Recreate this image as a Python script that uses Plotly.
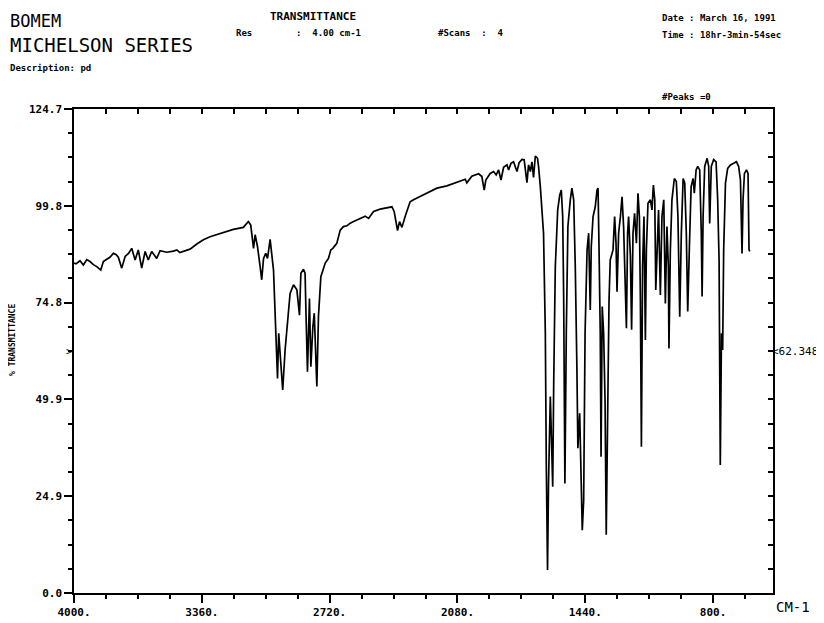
import plotly.graph_objects as go

# ---- data ----
wavenumber = [4000, 3990, 3970, 3953, 3936, 3920, 3903, 3886, 3866, 3853, 3836, 3820, 3803, 3790, 3778, 3761,
              3744, 3727, 3711, 3694, 3678, 3661, 3644, 3628, 3611, 3586, 3569, 3536, 3502, 3485, 3470, 3452,
              3419, 3385, 3352, 3319, 3268, 3235, 3202, 3152, 3127, 3115, 3101, 3093, 3081, 3068, 3060, 3051,
              3040, 3031, 3018, 3001, 2988, 2981, 2975, 2968, 2955, 2943, 2926, 2918, 2901, 2884, 2871, 2864,
              2851, 2843, 2838, 2831, 2821, 2814, 2804, 2797, 2784, 2776, 2764, 2742, 2726, 2714, 2704, 2684,
              2667, 2651, 2634, 2617, 2600, 2567, 2542, 2525, 2500, 2467, 2434, 2408, 2397, 2387, 2380, 2370,
              2358, 2342, 2317, 2300, 2267, 2216, 2183, 2133, 2091, 2066, 2041, 2033, 2008, 1974, 1958, 1946,
              1938, 1916, 1899, 1886, 1874, 1862, 1849, 1832, 1824, 1812, 1799, 1791, 1782, 1771, 1757, 1746,
              1732, 1724, 1715, 1707, 1699, 1690, 1679, 1674, 1665, 1649, 1640, 1635, 1629, 1624, 1615, 1610,
              1603, 1598, 1590, 1578, 1568, 1560, 1553, 1548, 1542, 1535, 1527, 1515, 1507, 1498, 1490, 1482,
              1477, 1468, 1462, 1455, 1448, 1441, 1431, 1423, 1415, 1410, 1401, 1390, 1381, 1376, 1371, 1365,
              1361, 1355, 1348, 1341, 1335, 1328, 1321, 1315, 1301, 1293, 1286, 1281, 1273, 1264, 1256, 1248,
              1241, 1234, 1228, 1223, 1214, 1208, 1201, 1193, 1184, 1176, 1169, 1164, 1159, 1153, 1146, 1139,
              1134, 1126, 1114, 1106, 1099, 1092, 1087, 1081, 1073, 1064, 1056, 1047, 1039, 1031, 1024, 1021,
              1014, 1006, 994, 984, 976, 967, 959, 950, 942, 934, 927, 919, 910, 900, 894, 885,
              877, 867, 859, 855, 850, 842, 830, 822, 817, 809, 797, 785, 777, 770, 767, 764,
              758, 752, 747, 738, 727, 713, 697, 683, 672, 663, 655, 650, 643, 633, 625, 620, 616]
transmittance = [85.0, 84.8, 85.6, 84.5, 85.9, 85.4, 84.6, 84.1, 83.2, 85.4, 86.0, 86.5, 87.5, 87.2, 86.5, 83.7,
                 86.7, 87.5, 88.8, 85.8, 88.4, 83.7, 88.0, 85.8, 88.0, 86.2, 88.2, 87.8, 88.1, 88.4, 87.7, 88.0,
                 88.6, 89.9, 91.0, 91.8, 92.7, 93.1, 93.7, 94.2, 95.7, 94.8, 88.8, 92.3, 89.2, 84.1, 80.7, 86.2,
                 87.5, 86.2, 91.1, 83.2, 67.8, 55.3, 66.9, 60.9, 52.3, 62.6, 72.1, 77.2, 79.4, 78.1, 71.6, 82.4,
                 83.4, 82.4, 71.2, 57.0, 75.9, 58.3, 68.6, 72.1, 53.2, 71.2, 81.5, 85.0, 86.2, 88.4, 88.8, 90.1,
                 93.5, 94.4, 94.6, 95.3, 95.7, 96.5, 97.1, 96.5, 98.3, 98.9, 99.3, 99.5, 98.3, 95.2, 93.4, 95.7,
                 94.2, 97.0, 100.8, 101.3, 102.1, 103.4, 104.3, 104.9, 105.7, 106.0, 106.6, 105.7, 107.4, 108.0, 107.3, 103.8,
                 106.4, 108.1, 108.6, 107.7, 109.0, 106.4, 109.7, 110.3, 109.0, 110.7, 111.1, 109.9, 108.6, 110.9, 111.7, 111.6,
                 105.7, 110.3, 108.6, 111.1, 107.1, 112.6, 112.0, 109.9, 104.7, 92.7, 66.9, 32.5, 5.9, 28.2, 50.6, 41.1,
                 27.4, 54.0, 84.1, 98.7, 102.5, 103.8, 97.0, 75.5, 28.2, 66.9, 94.4, 101.3, 104.3, 101.3, 84.1, 58.3,
                 37.3, 46.3, 32.5, 16.2, 23.9, 66.9, 88.4, 92.7, 72.9, 89.2, 97.0, 99.5, 103.8, 104.3, 88.4, 66.9,
                 35.1, 73.8, 66.9, 49.7, 15.0, 49.7, 75.5, 85.8, 88.4, 97.0, 90.1, 77.6, 92.7, 97.0, 102.1, 94.4,
                 81.5, 68.2, 92.7, 97.0, 86.7, 67.8, 92.7, 97.8, 90.1, 103.0, 97.0, 75.5, 37.7, 84.1, 97.0, 65.2,
                 88.4, 100.4, 101.3, 98.7, 105.1, 101.3, 78.1, 90.1, 98.7, 76.8, 97.0, 101.3, 74.6, 94.4, 84.1, 63.0,
                 88.4, 101.3, 106.8, 106.0, 97.0, 71.2, 92.7, 106.8, 105.6, 92.7, 72.5, 88.4, 104.7, 106.8, 103.0, 109.0,
                 109.9, 109.0, 92.7, 76.4, 97.0, 109.9, 112.0, 109.9, 95.2, 109.9, 111.7, 111.1, 101.3, 85.8, 62.6, 33.0,
                 66.9, 62.6, 88.4, 105.6, 109.4, 110.3, 110.7, 111.1, 109.9, 106.4, 87.5, 101.3, 108.1, 109.0, 108.1, 88.4, 88.0]

x_tick_vals = [4000, 3360, 2720, 2080, 1440, 800]
x_tick_text = ["4000.", "3360.", "2720.", "2080.", "1440.", "800."]
y_tick_vals = [0.0, 24.94, 49.88, 74.82, 99.76, 124.7]
y_tick_text = ["0.0", "24.9", "49.9", "74.8", "99.8", "124.7"]
marker_value = 62.348

X_RANGE = [4000, 500]
Y_RANGE = [0, 124.7]

# The page body has an 8px margin, so the figure starts at (8, 8) in the window.
OFF = 8
W, H = 824 - OFF, 623 - OFF
# plot area in window pixels
L, R, T, B = 74, 773, 109, 593


def pp(x, y):
    return (x - L) / (R - L), (B - y) / (B - T)


MONO = "DejaVu Sans Mono, Liberation Mono, monospace"

fig = go.Figure()
fig.add_trace(go.Scatter(x=wavenumber, y=transmittance, mode="lines",
                         line=dict(color="black", width=1.7), hoverinfo="skip", showlegend=False))
# empty trace to activate the mirrored (inside-ticked) top/right axes
fig.add_trace(go.Scatter(x=[], y=[], xaxis="x2", yaxis="y2", showlegend=False, hoverinfo="skip"))

tickfont = dict(family=MONO, size=11, color="black", weight="bold")

fig.update_layout(
    width=W, height=H,
    margin=dict(l=L - OFF, r=(W + OFF) - R, t=T - OFF, b=(H + OFF) - B, pad=0),
    paper_bgcolor="white", plot_bgcolor="white",
    xaxis=dict(range=X_RANGE, tickmode="array", tickvals=x_tick_vals, ticktext=x_tick_text,
               ticks="outside", ticklen=8, tickwidth=1.5, tickcolor="black", automargin=False,
               minor=dict(tick0=4000, dtick=160, ticks="outside", ticklen=4, tickwidth=1.5, tickcolor="black"),
               showline=True, linecolor="black", linewidth=1.5, showgrid=False, zeroline=False,
               tickfont=tickfont),
    yaxis=dict(range=Y_RANGE, tickmode="array", tickvals=y_tick_vals, ticktext=y_tick_text,
               ticks="outside", ticklen=8, tickwidth=1.5, tickcolor="black", automargin=False,
               minor=dict(tick0=0, dtick=6.235, ticks="outside", ticklen=4, tickwidth=1.5, tickcolor="black"),
               showline=True, linecolor="black", linewidth=1.5, showgrid=False, zeroline=False,
               tickfont=tickfont),
    xaxis2=dict(range=X_RANGE, overlaying="x", side="top", tick0=4000, dtick=160, automargin=False,
                ticks="inside", ticklen=5, tickwidth=1.5, tickcolor="black", showticklabels=False,
                showline=True, linecolor="black", linewidth=1.5, showgrid=False, zeroline=False),
    yaxis2=dict(range=Y_RANGE, overlaying="y", side="right", tick0=0, dtick=6.235, automargin=False,
                ticks="inside", ticklen=5, tickwidth=1.5, tickcolor="black", showticklabels=False,
                showline=True, linecolor="black", linewidth=1.5, showgrid=False, zeroline=False),
)


def label(text, x, y, size, anchor="left", weight="normal", angle=0, family=MONO):
    xp, yp = pp(x, y)
    fig.add_annotation(text=text, xref="paper", yref="paper", x=xp, y=yp, xanchor=anchor,
                       yanchor="middle", showarrow=False, textangle=angle,
                       font=dict(family=family, size=size, color="black", weight=weight))


label("BOMEM", 8, 21, 17)
label("MICHELSON SERIES", 8, 45, 19)
label("Description: pd", 8, 68, 9, weight="bold")
label("TRANSMITTANCE", 268, 16, 11, weight="bold")
label("Res", 234, 33, 9, weight="bold")
label(":  4.00 cm-1", 294, 33, 9, weight="bold")
label("#Scans  :  4", 436, 33, 9, weight="bold")
label("Date : March 16, 1991", 660, 18, 9, weight="bold")
label("Time : 18hr-3min-54sec", 660, 35, 9, weight="bold")
label("#Peaks =0", 660, 97, 9, weight="bold")
label("% TRANSMITTANCE", 12, 340, 8, anchor="center", weight="bold", angle=-90)
label("CM-1", 774, 607, 14)

# marker at 62.348 on both vertical axes
fig.add_annotation(text="<" + str(marker_value), xref="paper", yref="y", x=1.0, y=marker_value,
                   xanchor="left", yanchor="middle", showarrow=False, xshift=-3,
                   font=dict(family=MONO, size=11, color="black"))
fig.add_annotation(text=">", xref="paper", yref="y", x=0.0, y=marker_value,
                   xanchor="right", yanchor="middle", showarrow=False, xshift=1,
                   font=dict(family=MONO, size=11, color="black"))

fig.write_html("out.html")
